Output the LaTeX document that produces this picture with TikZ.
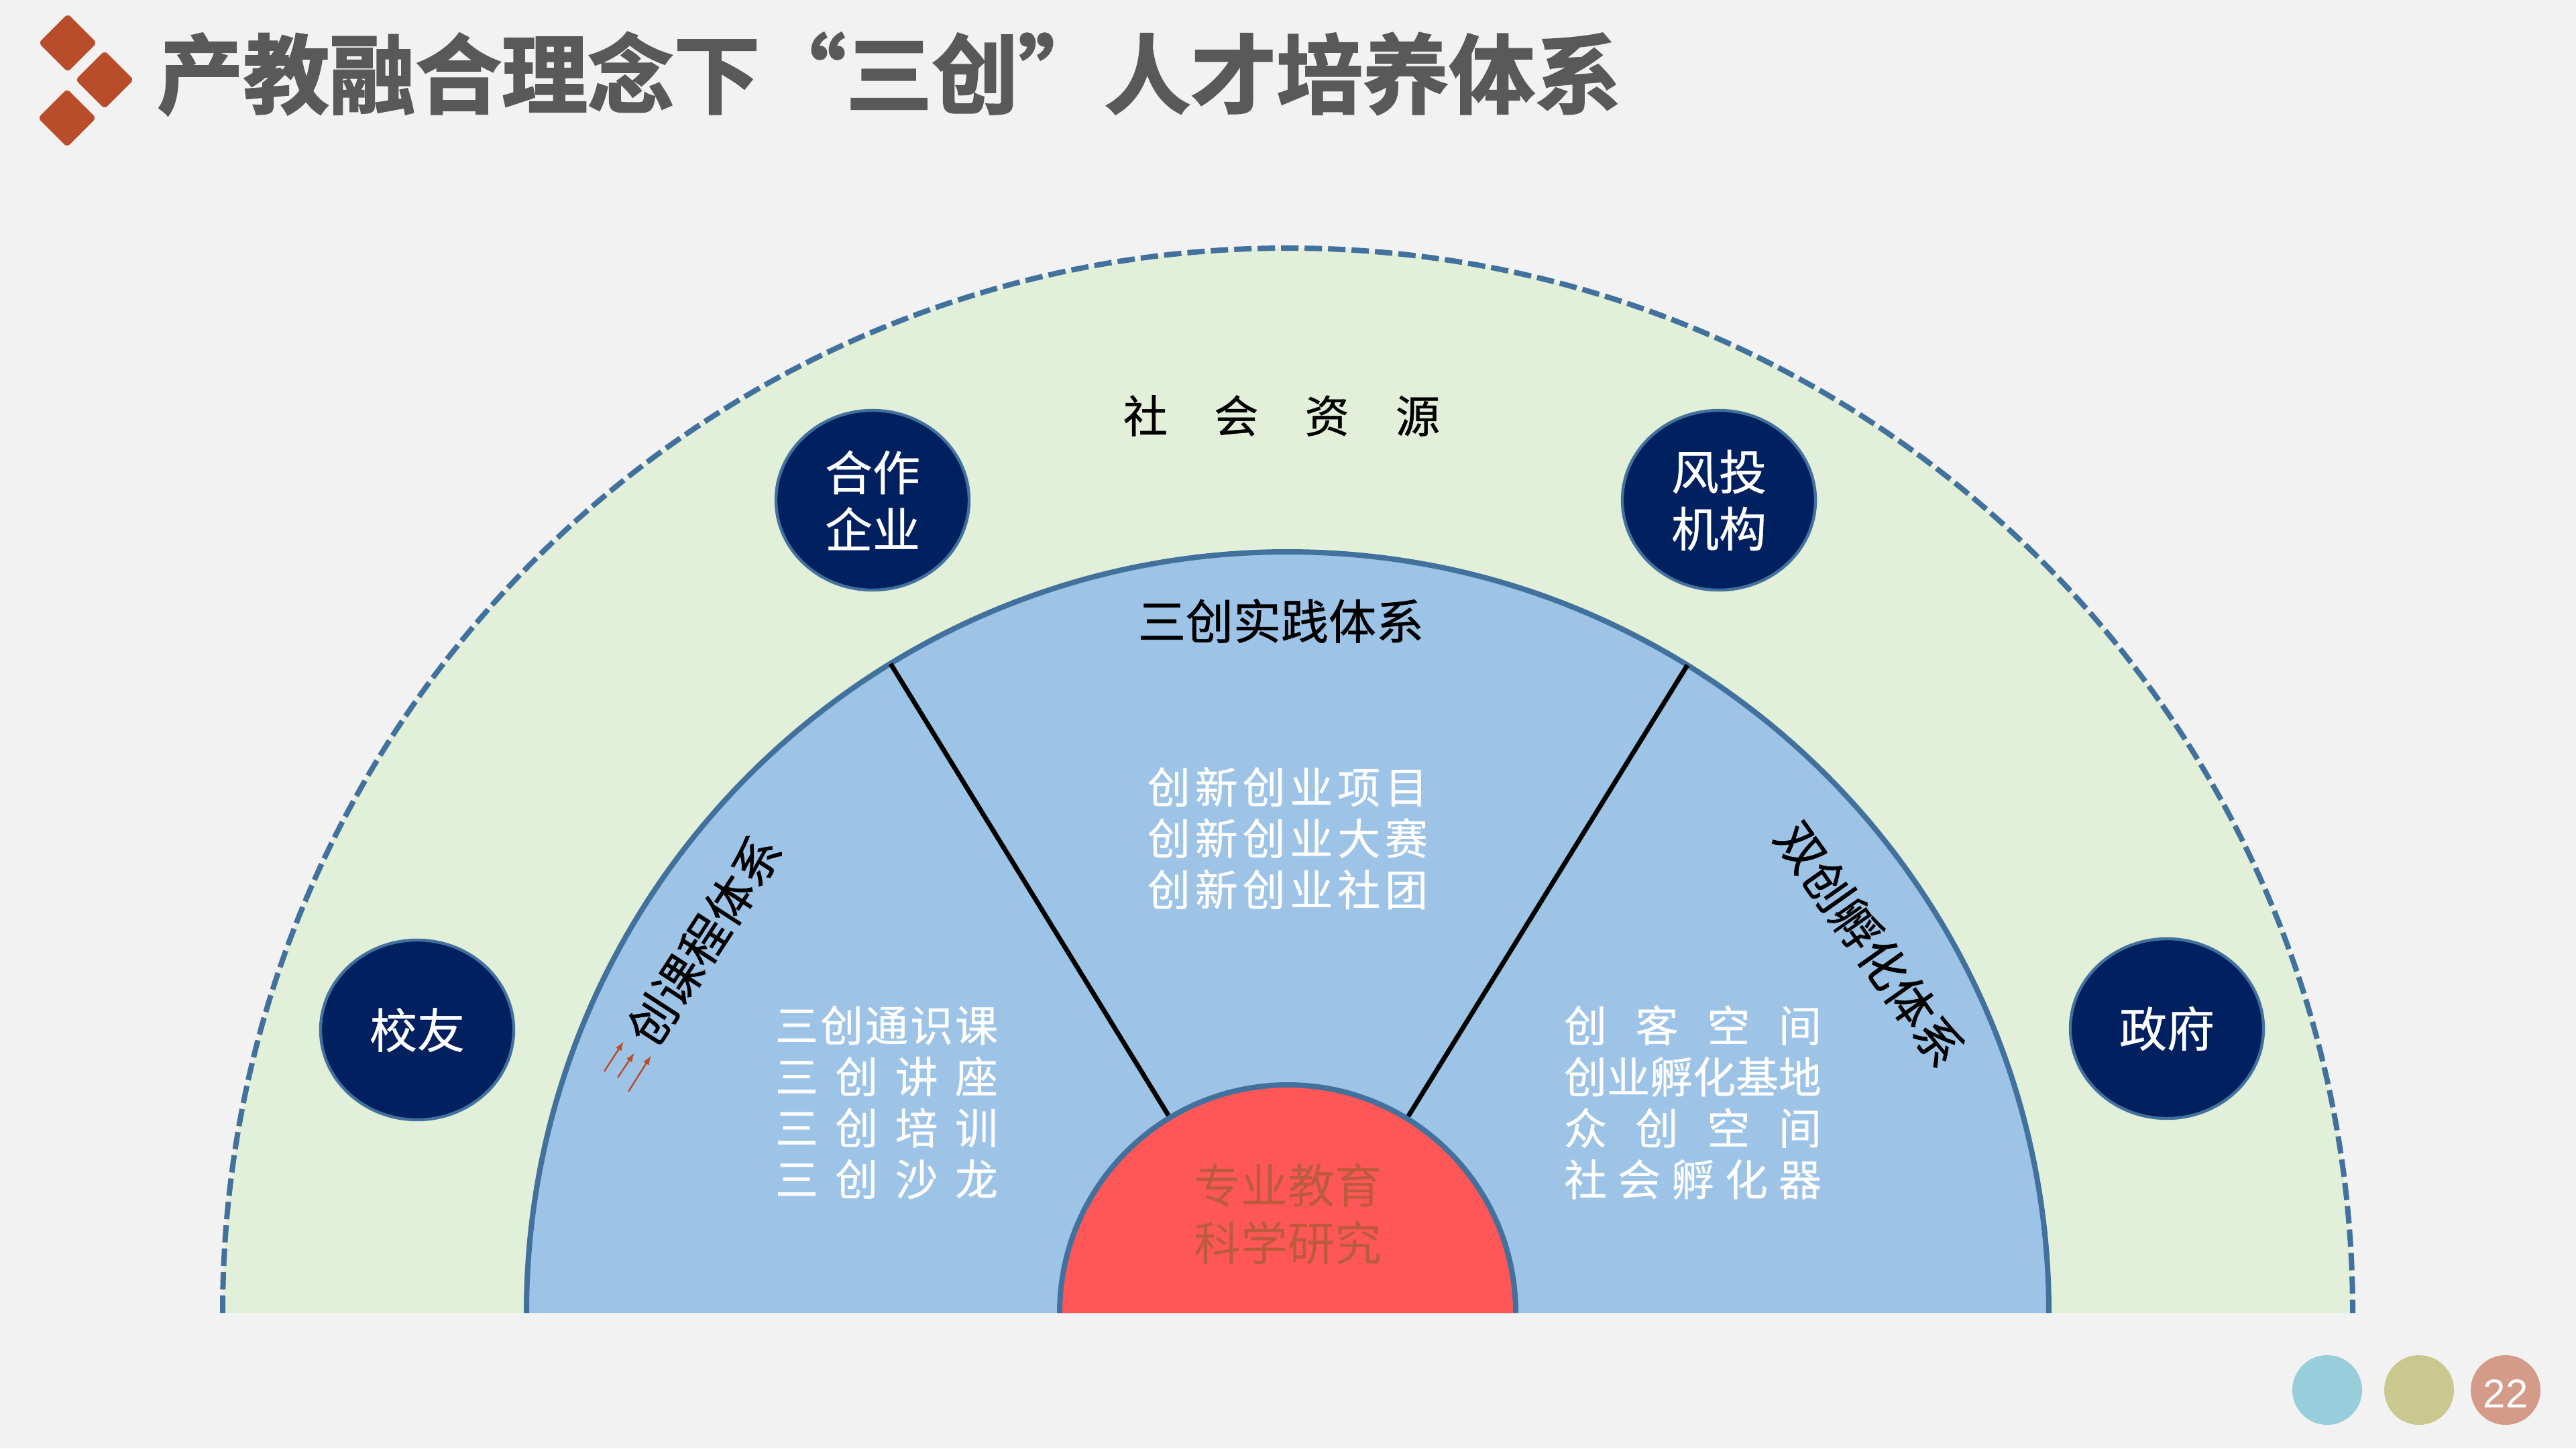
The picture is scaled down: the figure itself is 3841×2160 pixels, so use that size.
\documentclass[tikz,border=0pt]{standalone}
\usepackage{fontspec}
\setmainfont{Noto Sans CJK SC}[BoldFont={Noto Sans CJK SC Bold}]
\newfontfamily\latinfont{Liberation Sans}
\newfontfamily\titlefont[FakeBold=2]{Noto Sans CJK SC Bold}
\newfontfamily\headfont[FakeBold=0.8]{Noto Sans CJK SC}
\newfontfamily\bodyfont[FakeBold=0.5]{Noto Sans CJK SC}
\usetikzlibrary{arrows.meta,shapes.geometric}
\definecolor{pagebg}{HTML}{F2F2F2}
\definecolor{outerfill}{HTML}{E2EFD9}
\definecolor{innerfill}{HTML}{9DC3E6}
\definecolor{ringline}{HTML}{41719C}
\definecolor{corefill}{HTML}{FF5757}
\definecolor{coretext}{HTML}{BC5A3C}
\definecolor{navy}{HTML}{002060}
\definecolor{rust}{HTML}{B94D2B}
\definecolor{titlegrey}{HTML}{595959}
\definecolor{dotblue}{HTML}{98CDDB}
\definecolor{dotolive}{HTML}{C9C88F}
\definecolor{dotsalmon}{HTML}{D49B88}
\newcommand{\fs}[1]{\fontsize{#1}{#1}\selectfont}
\newcommand{\spreadline}[2]{\hbox to #1{#2}}
\tikzset{
 partner/.style={ellipse,draw=ringline,line width=2.2pt,fill=navy,text=white,minimum width=144pt,minimum height=134pt,inner sep=0pt,outer sep=0pt,align=center,font=\bodyfont\fs{35.5}},
 divider/.style={draw=black,line width=3.5pt},
 bodytext/.style={text=white,align=center,inner sep=0pt,font=\bodyfont\fontsize{32}{38.25}\selectfont},
 headtext/.style={text=black,inner sep=0pt,font=\headfont\fs{35.5}},
 dot/.style={circle,minimum size=52pt,inner sep=0pt},
 diamondmark/.style={fill=rust,draw=rust,line width=6pt,line join=round},
 redarrow/.style={draw=rust,line width=1.2pt,-{Latex[length=7pt,width=5pt]}},
 ringstroke/.style={draw=ringline,line width=4pt}
}
\begin{document}
\begin{tikzpicture}[x=0.5pt,y=-0.5pt]
\useasboundingbox (0,0) rectangle (3841,2160);
\fill[pagebg] (0,0) rectangle (3841,2160);
% decorative diamonds
\path[diamondmark] (101,29) -- (136,64) -- (101,99) -- (66,64) -- cycle;
\path[diamondmark] (156,84) -- (191,119) -- (156,154) -- (121,119) -- cycle;
\path[diamondmark] (100,141) -- (135,176) -- (100,211) -- (65,176) -- cycle;
\node[anchor=west,inner sep=0pt,text=titlegrey,font=\titlefont\fs{64.2}] (title) at (234,110) {产教融合理念下“三创”人才培养体系};
% rings
\fill[outerfill] (332,1958) arc[start angle=180,end angle=360,radius=1588] -- cycle;
\draw[ringstroke,dash pattern=on 13pt off 4.5pt] (332,1958) arc[start angle=180,end angle=360,radius=1588];
\fill[innerfill] (785,1958) arc[start angle=180,end angle=360,radius=1135] -- cycle;
\draw[ringstroke] (785,1958) arc[start angle=180,end angle=360,radius=1135];
% dividers
\coordinate (la) at (1328,990);
\coordinate (lb) at (1745,1668);
\coordinate (ra) at (2516,992);
\coordinate (rb) at (2099,1666);
\draw[divider] (la) -- (lb);
\draw[divider] (ra) -- (rb);
% core
\fill[corefill] (1580,1958) arc[start angle=180,end angle=360,radius=340] -- cycle;
\draw[ringstroke] (1580,1958) arc[start angle=180,end angle=360,radius=340];
\node[text=coretext,align=center,inner sep=0pt,font=\fontsize{35}{43}\selectfont] (core) at (1920,1811) {专业教育\\科学研究};
% partners
\node[partner] (xiaoyou) at (622,1536) {校友};
\node[partner,font=\bodyfont\fontsize{35.5}{42.5}\selectfont] (hezuo) at (1301,746) {合作\\企业};
\node[partner,font=\bodyfont\fontsize{35.5}{42.5}\selectfont] (fengtou) at (2563,746) {风投\\机构};
\node[partner] (zhengfu) at (3231,1534) {政府};
% heads
\node[inner sep=0pt,font=\headfont\fs{33}] (shehui) at (1911,620) {\spreadline{236pt}{社\hfil 会\hfil 资\hfil 源}};
\node[headtext] (shijian) at (1910,926) {三创实践体系};
\node[headtext,rotate=57] (kecheng) at (1050,1402) {创课程体系};
\node[headtext,rotate=-54.7] (fuhua) at (2788,1408) {双创孵化体系};
\coordinate (a1s) at (901,1598); \coordinate (a1e) at (930,1553);
\coordinate (a2s) at (921,1607); \coordinate (a2e) at (946,1570);
\coordinate (a3s) at (937,1628); \coordinate (a3e) at (971,1574);
\draw[redarrow] (a1s) -- (a1e);
\draw[redarrow] (a2s) -- (a2e);
\draw[redarrow] (a3s) -- (a3e);
% body text
\node[bodytext] (mid) at (1920,1250) {\spreadline{209pt}{创\hfil 新\hfil 创\hfil 业\hfil 项\hfil 目}\\\spreadline{209pt}{创\hfil 新\hfil 创\hfil 业\hfil 大\hfil 赛}\\\spreadline{209pt}{创\hfil 新\hfil 创\hfil 业\hfil 社\hfil 团}};
\node[bodytext] (left) at (1322,1644) {\spreadline{166pt}{三\hfil 创\hfil 通\hfil 识\hfil 课}\\\spreadline{166pt}{三\hfil 创\hfil 讲\hfil 座}\\\spreadline{166pt}{三\hfil 创\hfil 培\hfil 训}\\\spreadline{166pt}{三\hfil 创\hfil 沙\hfil 龙}};
\node[bodytext] (right) at (2524,1644) {\spreadline{192pt}{创\hfil 客\hfil 空\hfil 间}\\\spreadline{192pt}{创\hfil 业\hfil 孵\hfil 化\hfil 基\hfil 地}\\\spreadline{192pt}{众\hfil 创\hfil 空\hfil 间}\\\spreadline{192pt}{社\hfil 会\hfil 孵\hfil 化\hfil 器}};
% footer
\node[dot,fill=dotblue] (d1) at (3470,2073) {};
\node[dot,fill=dotolive] (d2) at (3607,2073) {};
\node[dot,fill=dotsalmon] (d3) at (3736,2073) {};
\node[text=white,inner sep=0pt,font=\latinfont\fs{30}] (pageno) at (3736,2079) {22};
\end{tikzpicture}
\end{document}
